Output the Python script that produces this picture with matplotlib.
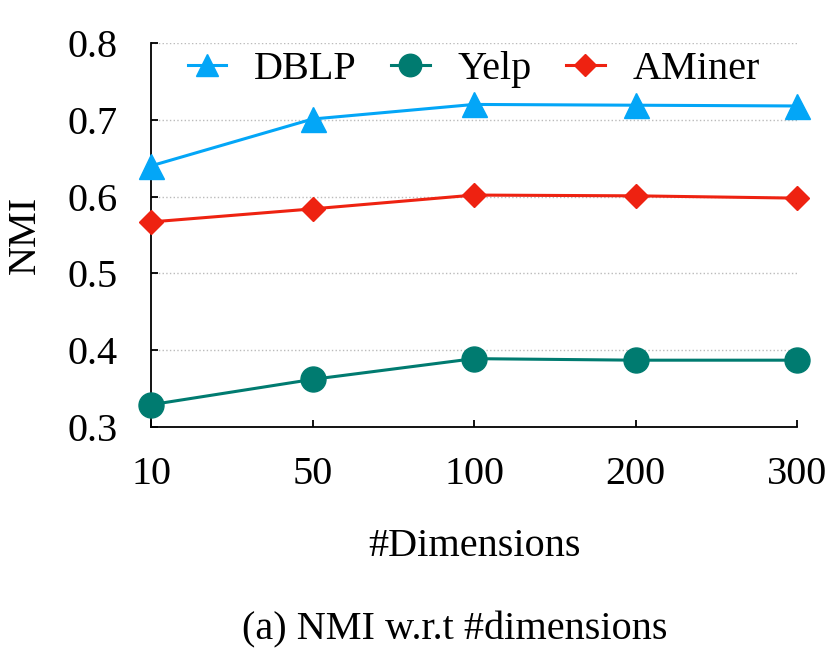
import matplotlib.pyplot as plt
import numpy as np

plt.rcParams['font.family'] = ['Liberation Serif', 'DejaVu Serif']

# NMI values
dims = ['10', '50', '100', '200', '300']
dblp = [0.640, 0.701, 0.720, 0.719, 0.718]
yelp = [0.329, 0.362, 0.389, 0.387, 0.387]
aminer = [0.567, 0.584, 0.602, 0.601, 0.598]

fig = plt.figure(figsize=(8.3, 6.53), dpi=100)
ax = fig.add_axes([151 / 830, 1 - 427 / 653, (797 - 151) / 830, (427 - 43) / 653])

x = np.arange(len(dims))
ax.plot(x, dblp, marker='^', color='#03A6F7', linewidth=2.2, markersize=18,
        label='DBLP', clip_on=False, zorder=3)
ax.plot(x, yelp, marker='o', color='#007B70', linewidth=2.2, markersize=18,
        label='Yelp', clip_on=False, zorder=3)
ax.plot(x, aminer, marker='D', color='#EE2211', linewidth=2.2, markersize=12.5,
        label='AMiner', clip_on=False, zorder=3)

ax.set_xlim(0, 4)
ax.set_ylim(0.3, 0.8)
ax.set_xticks(x)
ax.set_xticklabels(dims)
ax.set_yticks([0.3, 0.4, 0.5, 0.6, 0.7, 0.8])
ax.yaxis.grid(True, linestyle=':', color='#BBBBBB', linewidth=1)
ax.set_axisbelow(True)

for s in ['top', 'right']:
    ax.spines[s].set_visible(False)
ax.spines['left'].set_linewidth(1.3)
ax.spines['bottom'].set_linewidth(1.3)
ax.tick_params(direction='in', length=5, width=1.3, labelsize=29)
ax.tick_params(axis='y', pad=24)
ax.tick_params(axis='x', pad=21)

ax.set_xlabel('#Dimensions', fontsize=29, labelpad=25)
ax.set_ylabel('NMI', fontsize=29, labelpad=17)

ax.legend(loc='upper center', bbox_to_anchor=(0.5, 1.075), ncol=3, frameon=False,
          fontsize=29, handlelength=0.95, columnspacing=0.85, handletextpad=0.7,
          markerscale=0.9)

fig.text(455 / 830, 1 - 630 / 653, '(a) NMI w.r.t #dimensions', fontsize=29,
         ha='center', va='center')

fig.savefig('out.png', dpi=100)
